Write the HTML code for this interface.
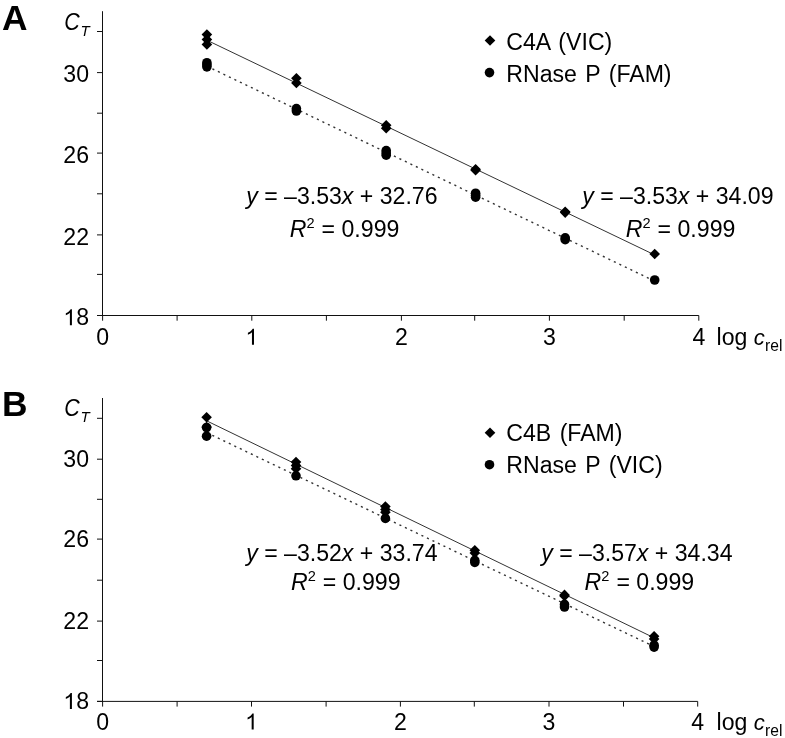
<!DOCTYPE html>
<html><head><meta charset="utf-8"><style>
html,body{margin:0;padding:0;background:#fff;width:785px;height:738px;overflow:hidden}
text{font-family:"Liberation Sans", sans-serif}
</style></head><body>
<svg width="785" height="738" viewBox="0 0 785 738" style="display:block;filter:grayscale(1)">
<rect width="785" height="738" fill="#fff"/>
<g stroke="#111" stroke-width="1" fill="none">
<line x1="102.5" y1="11.21" x2="102.5" y2="315.50"/>
<line x1="97" y1="315.50" x2="698.80" y2="315.50"/>
<line x1="97" y1="315.50" x2="102.5" y2="315.50"/>
<line x1="97" y1="274.40" x2="102.5" y2="274.40"/>
<line x1="97" y1="234.90" x2="102.5" y2="234.90"/>
<line x1="97" y1="193.80" x2="102.5" y2="193.80"/>
<line x1="97" y1="153.10" x2="102.5" y2="153.10"/>
<line x1="97" y1="113.20" x2="102.5" y2="113.20"/>
<line x1="97" y1="72.60" x2="102.5" y2="72.60"/>
<line x1="97" y1="31.50" x2="102.5" y2="31.50"/>
<line x1="102.60" y1="315.50" x2="102.60" y2="320.70"/>
<line x1="177.10" y1="315.50" x2="177.10" y2="320.70"/>
<line x1="251.80" y1="315.50" x2="251.80" y2="320.70"/>
<line x1="326.40" y1="315.50" x2="326.40" y2="320.70"/>
<line x1="401.40" y1="315.50" x2="401.40" y2="320.70"/>
<line x1="474.70" y1="315.50" x2="474.70" y2="320.70"/>
<line x1="549.40" y1="315.50" x2="549.40" y2="320.70"/>
<line x1="624.20" y1="315.50" x2="624.20" y2="320.70"/>
<line x1="698.80" y1="315.50" x2="698.80" y2="320.70"/>
</g>
<g font-family='"Liberation Sans", sans-serif' font-size="23.1" fill="#000">
<path transform="translate(63.31 325.30) scale(0.01128 -0.01128)" d="M763 0H583V1106Q518 1046 412.5 986T223 897V1064Q375 1133 489 1230T650 1419H763Z" fill="#000"/><text transform="translate(76.15 325.30) scale(1.0 1)">8</text>
<text transform="translate(63.31 244.70) scale(1.0 1)">22</text>
<text transform="translate(63.31 162.90) scale(1.0 1)">26</text>
<text transform="translate(63.31 82.40) scale(1.0 1)">30</text>
<text transform="translate(96.18 344.80) scale(1.0 1)">0</text>
<path transform="translate(245.38 344.80) scale(0.01128 -0.01128)" d="M763 0H583V1106Q518 1046 412.5 986T223 897V1064Q375 1133 489 1230T650 1419H763Z" fill="#000"/>
<text transform="translate(394.98 344.80) scale(1.0 1)">2</text>
<text transform="translate(542.98 344.80) scale(1.0 1)">3</text>
<text transform="translate(692.38 344.80) scale(1.0 1)">4</text>
<text transform="translate(716.50 344.80) scale(1.0 1)">log <tspan font-style="italic" font-size="22">c</tspan><tspan font-size="15.6" dy="6" dx="0.3">rel</tspan></text>
<text transform="translate(64.3 29.70) scale(0.9 1)" font-style="italic" font-size="23.8">C</text>
<text transform="translate(80.50 35.70) scale(1.0 1)" font-style="italic" font-size="15">T</text>
<text x="2" y="29.70" font-size="35.3" font-weight="bold">A</text>
<text transform="translate(506.30 49.50) scale(1.0 1)" word-spacing="2">C4A (VIC)</text>
<text transform="translate(506.30 81.60) scale(1.0 1)" word-spacing="2">RNase P (FAM)</text>
</g>
<path d="M490 35.20 l5.3 5.3 l-5.3 5.3 l-5.3 -5.3z" fill="#000"/>
<circle cx="489.5" cy="72.60" r="4.8" fill="#000"/>
<line x1="206.9" y1="40.2" x2="654.0" y2="254.6" stroke="#333" stroke-width="1"/>
<line x1="206.9" y1="66.2" x2="654.0" y2="280.8" stroke="#333" stroke-width="1.4" stroke-dasharray="2.1 4.0"/>
<circle cx="206.90" cy="62.75" r="4.8" fill="#000"/>
<circle cx="206.90" cy="64.80" r="4.8" fill="#000"/>
<circle cx="206.90" cy="66.85" r="4.8" fill="#000"/>
<circle cx="296.40" cy="108.60" r="4.8" fill="#000"/>
<circle cx="296.40" cy="111.00" r="4.8" fill="#000"/>
<circle cx="386.20" cy="150.60" r="4.8" fill="#000"/>
<circle cx="386.20" cy="152.90" r="4.8" fill="#000"/>
<circle cx="386.20" cy="155.20" r="4.8" fill="#000"/>
<circle cx="475.60" cy="193.20" r="4.8" fill="#000"/>
<circle cx="475.60" cy="195.20" r="4.8" fill="#000"/>
<circle cx="475.60" cy="197.20" r="4.8" fill="#000"/>
<circle cx="565.20" cy="237.90" r="4.8" fill="#000"/>
<circle cx="565.20" cy="239.70" r="4.8" fill="#000"/>
<circle cx="654.70" cy="280.00" r="4.8" fill="#000"/>
<path d="M206.90 29.30 l5.3 5.3 l-5.3 5.3 l-5.3 -5.3z" fill="#000"/>
<path d="M206.90 34.20 l5.3 5.3 l-5.3 5.3 l-5.3 -5.3z" fill="#000"/>
<path d="M206.90 39.10 l5.3 5.3 l-5.3 5.3 l-5.3 -5.3z" fill="#000"/>
<path d="M296.40 73.00 l5.3 5.3 l-5.3 5.3 l-5.3 -5.3z" fill="#000"/>
<path d="M296.40 77.70 l5.3 5.3 l-5.3 5.3 l-5.3 -5.3z" fill="#000"/>
<path d="M386.20 119.90 l5.3 5.3 l-5.3 5.3 l-5.3 -5.3z" fill="#000"/>
<path d="M386.20 122.90 l5.3 5.3 l-5.3 5.3 l-5.3 -5.3z" fill="#000"/>
<path d="M475.60 163.90 l5.3 5.3 l-5.3 5.3 l-5.3 -5.3z" fill="#000"/>
<path d="M475.60 165.00 l5.3 5.3 l-5.3 5.3 l-5.3 -5.3z" fill="#000"/>
<path d="M565.20 206.40 l5.3 5.3 l-5.3 5.3 l-5.3 -5.3z" fill="#000"/>
<path d="M565.20 207.30 l5.3 5.3 l-5.3 5.3 l-5.3 -5.3z" fill="#000"/>
<path d="M654.70 248.70 l5.3 5.3 l-5.3 5.3 l-5.3 -5.3z" fill="#000"/>
<g font-family='"Liberation Sans", sans-serif' font-size="23.1" fill="#000">
<text transform="translate(246.20 203.60) scale(1.0 1)"><tspan font-style="italic">y</tspan> = &#8211;3.53<tspan font-style="italic">x</tspan> + 32.76</text>
<text transform="translate(289.80 237.00) scale(1.0 1)"><tspan font-style="italic">R</tspan><tspan font-size="14.6" dy="-8.6">2</tspan><tspan dy="8.6" dx="0.6"> = 0.999</tspan></text>
<text transform="translate(582.20 203.60) scale(1.0 1)"><tspan font-style="italic">y</tspan> = &#8211;3.53<tspan font-style="italic">x</tspan> + 34.09</text>
<text transform="translate(625.80 237.00) scale(1.0 1)"><tspan font-style="italic">R</tspan><tspan font-size="14.6" dy="-8.6">2</tspan><tspan dy="8.6" dx="0.6"> = 0.999</tspan></text>
</g>
<g stroke="#111" stroke-width="1" fill="none">
<line x1="102.5" y1="398.01" x2="102.5" y2="701.40"/>
<line x1="97" y1="701.40" x2="697.70" y2="701.40"/>
<line x1="97" y1="701.40" x2="102.5" y2="701.40"/>
<line x1="97" y1="660.50" x2="102.5" y2="660.50"/>
<line x1="97" y1="621.10" x2="102.5" y2="621.10"/>
<line x1="97" y1="580.20" x2="102.5" y2="580.20"/>
<line x1="97" y1="539.10" x2="102.5" y2="539.10"/>
<line x1="97" y1="499.30" x2="102.5" y2="499.30"/>
<line x1="97" y1="459.20" x2="102.5" y2="459.20"/>
<line x1="97" y1="418.30" x2="102.5" y2="418.30"/>
<line x1="102.60" y1="701.40" x2="102.60" y2="706.60"/>
<line x1="177.10" y1="701.40" x2="177.10" y2="706.60"/>
<line x1="251.50" y1="701.40" x2="251.50" y2="706.60"/>
<line x1="326.10" y1="701.40" x2="326.10" y2="706.60"/>
<line x1="400.40" y1="701.40" x2="400.40" y2="706.60"/>
<line x1="474.30" y1="701.40" x2="474.30" y2="706.60"/>
<line x1="549.00" y1="701.40" x2="549.00" y2="706.60"/>
<line x1="623.50" y1="701.40" x2="623.50" y2="706.60"/>
<line x1="697.70" y1="701.40" x2="697.70" y2="706.60"/>
</g>
<g font-family='"Liberation Sans", sans-serif' font-size="23.1" fill="#000">
<path transform="translate(63.31 709.00) scale(0.01128 -0.01128)" d="M763 0H583V1106Q518 1046 412.5 986T223 897V1064Q375 1133 489 1230T650 1419H763Z" fill="#000"/><text transform="translate(76.15 709.00) scale(1.0 1)">8</text>
<text transform="translate(63.31 628.70) scale(1.0 1)">22</text>
<text transform="translate(63.31 546.70) scale(1.0 1)">26</text>
<text transform="translate(63.31 466.80) scale(1.0 1)">30</text>
<text transform="translate(96.18 729.50) scale(1.0 1)">0</text>
<path transform="translate(245.08 729.50) scale(0.01128 -0.01128)" d="M763 0H583V1106Q518 1046 412.5 986T223 897V1064Q375 1133 489 1230T650 1419H763Z" fill="#000"/>
<text transform="translate(393.98 729.50) scale(1.0 1)">2</text>
<text transform="translate(542.58 729.50) scale(1.0 1)">3</text>
<text transform="translate(691.28 729.50) scale(1.0 1)">4</text>
<text transform="translate(716.50 729.50) scale(1.0 1)">log <tspan font-style="italic" font-size="22">c</tspan><tspan font-size="15.6" dy="6" dx="0.3">rel</tspan></text>
<text transform="translate(64.3 416.00) scale(0.9 1)" font-style="italic" font-size="23.8">C</text>
<text transform="translate(80.50 422.00) scale(1.0 1)" font-style="italic" font-size="15">T</text>
<text x="2" y="415.60" font-size="35.3" font-weight="bold">B</text>
<text transform="translate(506.30 441.30) scale(1.0 1)" word-spacing="2">C4B (FAM)</text>
<text transform="translate(506.30 472.90) scale(1.0 1)" word-spacing="2">RNase P (VIC)</text>
</g>
<path d="M490 427.40 l5.3 5.3 l-5.3 5.3 l-5.3 -5.3z" fill="#000"/>
<circle cx="489.5" cy="464.70" r="4.8" fill="#000"/>
<line x1="206.8" y1="420.9" x2="653.2" y2="637.4" stroke="#333" stroke-width="1"/>
<line x1="206.8" y1="432.7" x2="653.2" y2="646.1" stroke="#333" stroke-width="1.4" stroke-dasharray="2.1 4.0"/>
<circle cx="206.60" cy="427.50" r="4.8" fill="#000"/>
<circle cx="206.60" cy="436.20" r="4.8" fill="#000"/>
<circle cx="296.00" cy="475.80" r="4.8" fill="#000"/>
<circle cx="385.40" cy="518.40" r="4.8" fill="#000"/>
<circle cx="474.80" cy="560.40" r="4.8" fill="#000"/>
<circle cx="474.80" cy="562.40" r="4.8" fill="#000"/>
<circle cx="564.50" cy="604.40" r="4.8" fill="#000"/>
<circle cx="564.50" cy="607.00" r="4.8" fill="#000"/>
<circle cx="654.10" cy="645.20" r="4.8" fill="#000"/>
<circle cx="654.10" cy="647.10" r="4.8" fill="#000"/>
<path d="M206.60 411.90 l5.3 5.3 l-5.3 5.3 l-5.3 -5.3z" fill="#000"/>
<path d="M206.60 421.70 l5.3 5.3 l-5.3 5.3 l-5.3 -5.3z" fill="#000"/>
<path d="M296.00 456.80 l5.3 5.3 l-5.3 5.3 l-5.3 -5.3z" fill="#000"/>
<path d="M296.00 460.10 l5.3 5.3 l-5.3 5.3 l-5.3 -5.3z" fill="#000"/>
<path d="M296.00 463.40 l5.3 5.3 l-5.3 5.3 l-5.3 -5.3z" fill="#000"/>
<path d="M385.40 501.30 l5.3 5.3 l-5.3 5.3 l-5.3 -5.3z" fill="#000"/>
<path d="M385.40 504.20 l5.3 5.3 l-5.3 5.3 l-5.3 -5.3z" fill="#000"/>
<path d="M385.40 507.00 l5.3 5.3 l-5.3 5.3 l-5.3 -5.3z" fill="#000"/>
<path d="M474.80 544.90 l5.3 5.3 l-5.3 5.3 l-5.3 -5.3z" fill="#000"/>
<path d="M474.80 547.70 l5.3 5.3 l-5.3 5.3 l-5.3 -5.3z" fill="#000"/>
<path d="M564.50 589.60 l5.3 5.3 l-5.3 5.3 l-5.3 -5.3z" fill="#000"/>
<path d="M564.50 590.70 l5.3 5.3 l-5.3 5.3 l-5.3 -5.3z" fill="#000"/>
<path d="M654.10 630.90 l5.3 5.3 l-5.3 5.3 l-5.3 -5.3z" fill="#000"/>
<path d="M654.10 633.70 l5.3 5.3 l-5.3 5.3 l-5.3 -5.3z" fill="#000"/>
<g font-family='"Liberation Sans", sans-serif' font-size="23.1" fill="#000">
<text transform="translate(246.20 561.20) scale(1.0 1)"><tspan font-style="italic">y</tspan> = &#8211;3.52<tspan font-style="italic">x</tspan> + 33.74</text>
<text transform="translate(291.00 589.50) scale(1.0 1)"><tspan font-style="italic">R</tspan><tspan font-size="14.6" dy="-8.6">2</tspan><tspan dy="8.6" dx="0.6"> = 0.999</tspan></text>
<text transform="translate(541.20 561.40) scale(1.0 1)"><tspan font-style="italic">y</tspan> = &#8211;3.57<tspan font-style="italic">x</tspan> + 34.34</text>
<text transform="translate(584.60 589.80) scale(1.0 1)"><tspan font-style="italic">R</tspan><tspan font-size="14.6" dy="-8.6">2</tspan><tspan dy="8.6" dx="0.6"> = 0.999</tspan></text>
</g>
</svg>
</body></html>
